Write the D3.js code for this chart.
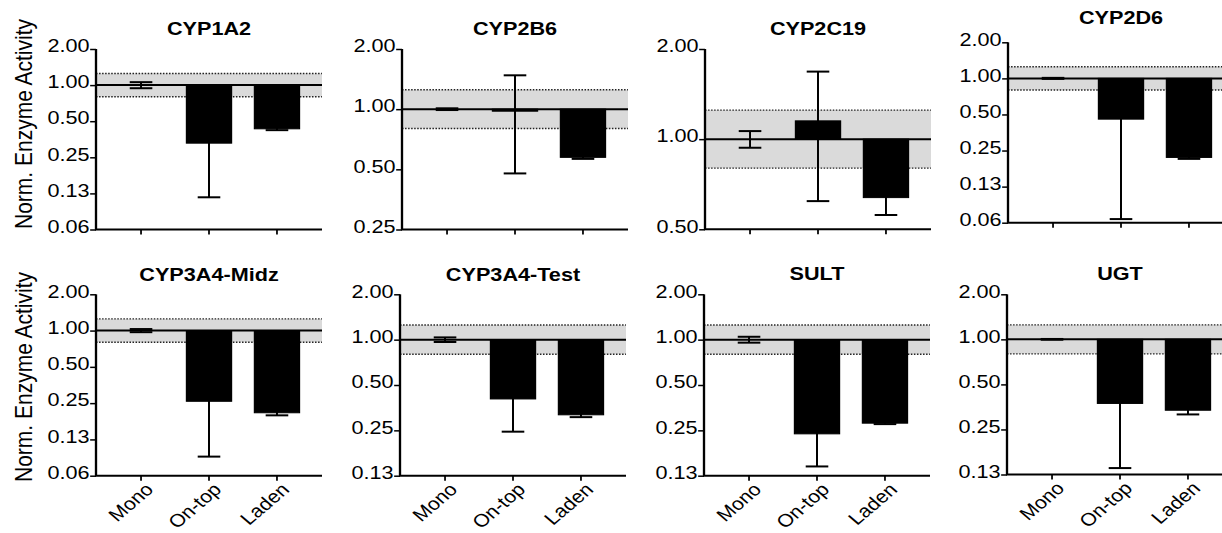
<!DOCTYPE html>
<html><head><meta charset="utf-8">
<script src="https://cdn.jsdelivr.net/npm/d3@7"></script>
<style>html,body{margin:0;padding:0;background:#fff;} svg{display:block;}</style>
</head><body><svg id="chart"></svg>
<script>
// ---------------- data ----------------
const assays = ["CYP1A2", "CYP2B6", "CYP2C19", "CYP2D6", "CYP3A4-Midz", "CYP3A4-Test", "SULT", "UGT"];
const conditions = ["Mono", "On-top", "Laden"];

const meanCYP1A2 = [1.00, 0.328, 0.432];
const meanCYP2B6 = [1.00, 0.977, 0.574];
const meanCYP2C19 = [1.00, 1.151, 0.638];
const meanCYP2D6 = [1.00, 0.457, 0.219];
const meanCYP3A4Midz = [1.00, 0.259, 0.208];
const meanCYP3A4Test = [1.00, 0.404, 0.317];
const meanSULT = [1.00, 0.237, 0.279];
const meanUGT = [1.00, 0.373, 0.336];

const sdCYP1A2 = [0.058, 0.212, 0.011];
const sdCYP2B6 = [0.010, 0.500, 0.010];
const sdCYP2C19 = [0.064, 0.530, 0.080];
const sdCYP2D6 = [0.010, 0.390, 0.006];
const sdCYP3A4Midz = [0.030, 0.169, 0.010];
const sdCYP3A4Test = [0.035, 0.159, 0.011];
const sdSULT = [0.045, 0.093, 0.004];
const sdUGT = [0.006, 0.235, 0.021];

const means = [meanCYP1A2, meanCYP2B6, meanCYP2C19, meanCYP2D6, meanCYP3A4Midz, meanCYP3A4Test, meanSULT, meanUGT];
const sds = [sdCYP1A2, sdCYP2B6, sdCYP2C19, sdCYP2D6, sdCYP3A4Midz, sdCYP3A4Test, sdSULT, sdUGT];

const yMin = [0.0625, 0.25, 0.5, 0.0625, 0.0625, 0.125, 0.125, 0.125];
const yMax = 2;
const tickValues = [2, 1, 0.5, 0.25, 0.125, 0.0625];
const tickLabels = ["2.00", "1.00", "0.50", "0.25", "0.13", "0.06"];
const baseline = 1;
const bandLow = 0.8, bandHigh = 1.25;
const yTitle = "Norm. Enzyme Activity";

// ---------------- layout (screen px) ----------------
const W = 1222, H = 533, SX = 1.17;   // horizontal stretch of the original figure
const IW = W / SX;
const sx = v => v / SX;
const axisXs = [96, 402, 705, 1008, 96, 400, 704, 1007];
const tops = [49, 49, 49, 42.3, 294.3, 294.3, 294.3, 294.3];
const bottoms = [229.5, 229.5, 229.3, 222.7, 475.7, 475.7, 475.7, 474.5];
const titleYs = [35.5, 35.5, 35.5, 24, 280.7, 280.7, 280.2, 280.2];
const plotW = 226;
const FONT = "'Liberation Sans', Arial, Helvetica, sans-serif";

const svg = d3.select("#chart")
  .attr("width", W).attr("height", H)
  .attr("viewBox", `0 0 ${IW} ${H}`)
  .attr("preserveAspectRatio", "none")
  .style("font-family", FONT);

// y titles
[124, 377].forEach(cy => {
  svg.append("text")
    .attr("transform", `translate(${sx(32)},${cy}) rotate(-90)`)
    .attr("text-anchor", "middle")
    .attr("font-size", 21)
    .attr("fill", "#000")
    .text(yTitle);
});

assays.forEach((name, i) => {
  const m = means[i], s = sds[i];
  const x0 = sx(axisXs[i]), x1 = sx(axisXs[i] + plotW), xe = Math.min(x1, IW);
  const x = d3.scaleBand().domain(conditions).range([x0, x1]).paddingInner(0.335).paddingOuter(0.33);
  const y = d3.scaleLog().base(2).domain([yMin[i], yMax]).range([bottoms[i], tops[i]]);
  const g = svg.append("g");

  // reference band
  g.append("rect")
    .attr("x", x0).attr("width", xe - x0)
    .attr("y", y(bandHigh)).attr("height", y(bandLow) - y(bandHigh))
    .attr("fill", "#dadada");
  [bandLow, bandHigh].forEach(v => {
    g.append("line")
      .attr("x1", x0).attr("x2", xe).attr("y1", y(v)).attr("y2", y(v))
      .attr("stroke", "#222").attr("stroke-width", 1.4).attr("stroke-dasharray", "1.3 1.3");
  });

  // bars
  conditions.forEach((c, j) => {
    const ya = y(m[j]), yb = y(baseline);
    const top = Math.min(ya, yb), h = Math.abs(ya - yb);
    if (h > 0.01) {
      g.append("rect")
        .attr("x", x(c)).attr("width", x.bandwidth())
        .attr("y", top).attr("height", h)
        .attr("fill", "#000").attr("stroke", "#000").attr("stroke-width", 1);
    }
  });

  // error bars
  const capW = x.bandwidth() * 0.5;
  conditions.forEach((c, j) => {
    const cx = x(c) + x.bandwidth() / 2;
    const lo = m[j] - s[j], hi = m[j] + s[j];
    g.append("line").attr("x1", cx).attr("x2", cx).attr("y1", y(lo)).attr("y2", y(hi))
      .attr("stroke", "#000").attr("stroke-width", 1.7);
    [lo, hi].forEach(v => {
      g.append("line").attr("x1", cx - capW / 2).attr("x2", cx + capW / 2).attr("y1", y(v)).attr("y2", y(v))
        .attr("stroke", "#000").attr("stroke-width", 2);
    });
  });

  // baseline at 1.0
  g.append("line").attr("x1", x0).attr("x2", xe).attr("y1", y(baseline)).attr("y2", y(baseline))
    .attr("stroke", "#000").attr("stroke-width", 2);

  // y axis
  const tv = tickValues.filter(v => v >= yMin[i] - 1e-9 && v <= yMax + 1e-9);
  const yAxis = d3.axisLeft(y).tickValues(tv)
    .tickFormat(d => tickLabels[tickValues.indexOf(d)])
    .tickSize(5).tickSizeOuter(0).tickPadding(0.5);
  const ya = g.append("g").attr("transform", `translate(${x0},0)`).call(yAxis);
  ya.select(".domain").attr("stroke-width", 2).attr("d", `M0,${bottoms[i]}V${tops[i]}`);
  ya.selectAll(".tick line").attr("stroke-width", 1.5);
  ya.selectAll(".tick text").attr("font-size", 18.5).attr("font-family", FONT).attr("fill", "#000").attr("dy", "0.15em");

  // x axis
  const xAxis = d3.axisBottom(x).tickSize(5).tickSizeOuter(0);
  const xa = g.append("g").attr("transform", `translate(0,${bottoms[i]})`).call(xAxis);
  xa.select(".domain").remove();
  xa.append("line").attr("x1", x0 - 0.8).attr("x2", xe).attr("y1", 0).attr("y2", 0)
    .attr("stroke", "#000").attr("stroke-width", 2);
  xa.selectAll(".tick line").attr("stroke-width", 1.5);
  if (i >= 4) {
    xa.selectAll(".tick text")
      .attr("font-size", 18).attr("font-family", FONT).attr("fill", "#000")
      .attr("x", 0).attr("y", 0).attr("dy", 0)
      .attr("text-anchor", "end")
      .attr("transform", `translate(${sx(13.5)},15) rotate(-45)`);
  } else {
    xa.selectAll(".tick text").remove();
  }

  // title
  g.append("text")
    .attr("x", sx(axisXs[i] + plotW / 2)).attr("y", titleYs[i])
    .attr("text-anchor", "middle").attr("font-weight", "bold").attr("font-size", 18.5)
    .attr("fill", "#000")
    .text(name);
});
</script>
</body></html>
